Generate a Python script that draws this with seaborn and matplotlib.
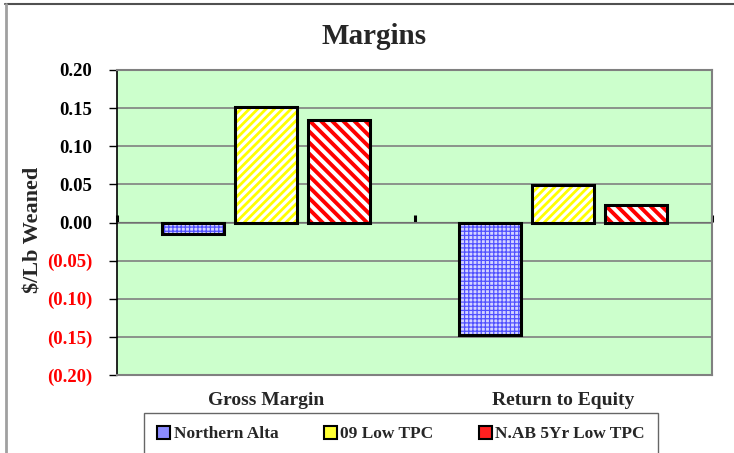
import matplotlib
matplotlib.use("Agg")
import matplotlib.pyplot as plt
import matplotlib as mpl
from matplotlib.lines import Line2D
from matplotlib.patches import Patch
import seaborn as sns
import pandas as pd

categories = ["Gross Margin", "Return to Equity"]
series_names = ["Northern Alta", "09 Low TPC", "N.AB 5Yr Low TPC"]
northern_alta = [-0.015, -0.147]
low_tpc_09 = [0.151, 0.049]
nab_5yr_low_tpc = [0.134, 0.023]
yticks = [-0.20, -0.15, -0.10, -0.05, 0.00, 0.05, 0.10, 0.15, 0.20]

sns.set_style("white")
plt.rcParams["font.family"] = ["Liberation Serif", "DejaVu Serif"]
plt.rcParams["font.weight"] = "bold"

df = pd.DataFrame({
    "Category": categories * 3,
    "Series": [s for s in series_names for _ in categories],
    "Value": northern_alta + low_tpc_09 + nab_5yr_low_tpc,
})

fig = plt.figure(figsize=(7.34, 4.53), dpi=100)
ax = fig.add_axes([117/734, 1-375/453, (712-117)/734, (375-70)/453])
ax.set_facecolor("#CCFFCC")

# gridlines
for t in yticks:
    ax.axhline(t, color="#808080", lw=1.2, zorder=0.5)

hatch_styles = {
    "Northern Alta": dict(face="#D4D4FF", hatch="++++", hcol="#5050FF", hlw=0.9),
    "09 Low TPC": dict(face="white", hatch="////", hcol="#FFFF00", hlw=2.0),
    "N.AB 5Yr Low TPC": dict(face="white", hatch="\\\\\\", hcol="#FF0000", hlw=2.8),
}

sns.barplot(data=df, x="Category", y="Value", hue="Series", hue_order=series_names,
            order=categories, palette=["white"] * 3, width=0.736, gap=0.15,
            legend=False, ax=ax, zorder=2, linewidth=0)
for name, cont in zip(series_names, ax.containers):
    st = hatch_styles[name]
    for p in cont.patches:
        p.set_facecolor(st["face"])
        p.set_edgecolor(st["hcol"])
        p.set_hatch(st["hatch"])
        p.set_linewidth(0)
        if hasattr(p, "set_hatch_linewidth"):
            p.set_hatch_linewidth(st["hlw"])

sns.barplot(data=df, x="Category", y="Value", hue="Series", hue_order=series_names,
            order=categories, fill=False, width=0.736, gap=0.15, legend=False,
            ax=ax, zorder=3, linewidth=2.2, edgecolor="black", palette=["black"] * 3)

ax.set_xlim(-0.5, 1.5)
ax.set_ylim(-0.2, 0.2)

# y axis ticks
ax.set_yticks(yticks)
labels = []
for t in yticks:
    if t < -1e-9:
        labels.append(f"({abs(t):.2f})")
    else:
        labels.append(f"{t:.2f}")
ax.set_yticklabels(labels, fontsize=13.5, fontweight="bold")
for t, lab in zip(yticks, ax.get_yticklabels()):
    lab.set_color("red" if t < -1e-9 else "black")
ax.tick_params(axis="y", direction="out", length=6, width=1, color="black", pad=12, left=True)

ax.set_xticks([0, 1])
ax.set_xticklabels(categories, fontsize=14, fontweight="bold")
ax.tick_params(axis="x", length=0, pad=12)
ax.set_xlabel("")
ax.set_ylabel("")
fig.text(34/734, 1-230/453, "$/Lb Weaned", fontsize=16, fontweight="bold",
         rotation=90, ha="center", va="center")

for side in ["top", "right", "bottom"]:
    ax.spines[side].set_color("#808080")
    ax.spines[side].set_linewidth(1.5)
ax.spines["left"].set_color("black")
ax.spines["left"].set_linewidth(1.2)

# zero axis with category separator ticks
sec = ax.secondary_xaxis(0.5)
sec.spines["bottom"].set_color("black")
sec.spines["bottom"].set_linewidth(2.5)
sec.spines["bottom"].set_zorder(5)
sec.set_xticks([-0.5, 0.5, 1.5])
sec.set_xticklabels(["", "", ""])
sec.tick_params(axis="x", direction="out", length=5, width=2.2, color="black")

fig.text(374/734, 1-37/453, "Margins", fontsize=21, fontweight="bold",
         ha="center", va="center")

# legend
handles = [
    Patch(facecolor="#8C8CFF", edgecolor="black", linewidth=1.5),
    Patch(facecolor="#FFFF33", edgecolor="black", linewidth=1.5),
    Patch(facecolor="#FF2020", edgecolor="black", linewidth=1.5),
]
leg = fig.legend(handles, series_names, loc="upper center",
                 bbox_to_anchor=(401/734, 1-413/453), ncol=3, frameon=True,
                 fancybox=False, edgecolor="#404040",
                 prop={"weight": "bold", "size": 12.5}, handlelength=0.75,
                 handleheight=0.75, handletextpad=0.2, columnspacing=2.6,
                 borderpad=0.75, borderaxespad=0)
leg.get_frame().set_linewidth(1.0)

# outer chart border
fig.add_artist(Line2D([5/734, 1.0], [1-4/453, 1-4/453], color="#505050", lw=1.5,
                      transform=fig.transFigure))
fig.add_artist(Line2D([6/734, 6/734], [0, 1-4/453], color="#A0A0A0", lw=2,
                      transform=fig.transFigure))

fig.savefig("out.png", dpi=100)
